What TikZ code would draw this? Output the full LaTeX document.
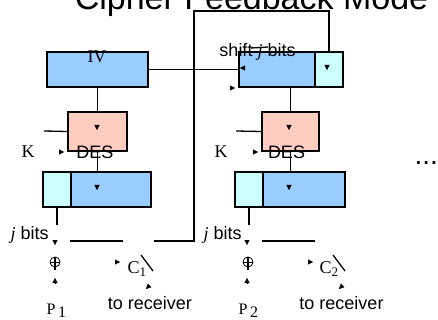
\documentclass[tikz,border=0pt]{standalone}
\usepackage{fontspec}
\setmainfont{Liberation Serif}
\setsansfont{Liberation Sans}
\usetikzlibrary{arrows.meta}
\usetikzlibrary{calc}

\definecolor{regblue}{RGB}{153,204,255}
\definecolor{regcyan}{RGB}{204,255,255}
\definecolor{despink}{RGB}{255,204,192}

\begin{document}
\begin{tikzpicture}[
  x=1pt, y=-1pt, line width=1.3pt,
  reg/.style = {draw, fill=regblue, inner sep=0pt, minimum height=35pt},
  regend/.style = {draw, fill=regcyan, inner sep=0pt, minimum height=35pt, minimum width=28pt},
  desbox/.style = {draw, fill=despink, inner sep=0pt, minimum height=39pt},
  xorsign/.style = {draw, circle, line width=0.8pt, inner sep=0pt, minimum size=10pt},
  sanstext/.style = {inner sep=0pt, anchor=base, font=\fontsize{18}{18}\selectfont\sffamily},
  seriftext/.style = {inner sep=0pt, anchor=base, font=\fontsize{18}{18}\selectfont},
  arrowtip/.style = {-{Triangle[length=5pt,width=5pt]}, line width=0.4pt}
  ]
	\useasboundingbox (0,0) rectangle (438,320);

	\node[inner sep=0pt, anchor=base, font=\fontsize{34}{34}\selectfont\sffamily] (title) at (251.5,10) {Cipher Feedback Mode};

	% registers and DES boxes
	\node[reg, minimum width=101pt] (iv) at (97.5,69.5) {};
	\node[reg, minimum width=76pt] (sr2) at (277,69.5) {};
	\node[regend] (se2) at (329,69.5) {};
	\node[desbox, minimum width=59pt] (des1) at (97.5,131.5) {};
	\node[desbox, minimum width=57pt] (des2) at (290.5,131.5) {};
	\node[regend] (oe1) at (57,189.5) {};
	\node[reg, minimum width=80pt] (ob1) at (111,189.5) {};
	\node[regend] (oe2) at (249,189.5) {};
	\node[reg, minimum width=82pt] (ob2) at (304,189.5) {};

	\coordinate (@fbtop) at (194,11);
	\coordinate (@fbbot) at (194,241);
	\coordinate (@c1r) at (154,241);
	\coordinate (@h1a) at (70,241);
	\coordinate (@h1b) at (123,241);
	\coordinate (@h2a) at (262,241);
	\coordinate (@h2b) at (315,241);
	\coordinate (@j1) at (57,225);
	\coordinate (@j2) at (249,225);
	\coordinate (@k1) at (44,131);
	\coordinate (@k2) at (236,131);

	\draw (iv.east) -- (sr2.west);
	\draw (se2.north) |- (@fbtop) -- (@fbbot) -- (@c1r);
	\draw (@h1a) -- (@h1b);
	\draw (@h2a) -- (@h2b);
	\draw (iv.south) -- (des1.north);
	\draw (des1.south) -- (des1.south |- ob1.north);
	\draw (des2.north |- sr2.south) -- (des2.north);
	\draw (des2.south) -- (des2.south |- ob2.north);
	\draw (oe1.south) -- (@j1);
	\draw (oe2.south) -- (@j2);
	\draw (@k1) -- (des1.west);
	\draw (@k2) -- (des2.west);
	\draw (251,48) -- (268,47);
	\draw (141,255) -- (153,271);
	\draw (333,255) -- (345,271);

	% xor signs
	\node[xorsign] (xor1) at (55,262) {};
	\node[xorsign] (xor2) at (248,262) {};
	\draw[line width=0.8pt] (xor1.west) -- (xor1.east);
	\draw[line width=0.8pt] (xor2.west) -- (xor2.east);
	\draw (xor1.north) -- ([yshift=-3pt]xor1.south);
	\draw (xor2.north) -- ([yshift=-3pt]xor2.south);

	% loose arrow heads
	\draw[arrowtip] (244,68) -- (240,68);
	\draw[arrowtip] (230,88) -- (235,88);
	\draw[arrowtip] (327,65) -- (327,70);
	\draw[arrowtip] (97,125) -- (97,130);
	\draw[arrowtip] (289,125) -- (289,130);
	\draw[arrowtip] (97,185) -- (97,190);
	\draw[arrowtip] (289,185) -- (289,190);
	\draw[arrowtip] (59,152) -- (64,152);
	\draw[arrowtip] (253,152) -- (258,152);
	\draw[arrowtip] (55,240) -- (55,245);
	\draw[arrowtip] (247,240) -- (247,245);
	\draw[arrowtip] (55,283) -- (55,278);
	\draw[arrowtip] (247,283) -- (247,278);
	\draw[arrowtip] (115,262) -- (120,262);
	\draw[arrowtip] (308,262) -- (313,262);
	\draw[arrowtip] (150,285) -- (146,289);
	\draw[arrowtip] (343,285) -- (339,289);

	% texts
	\node[seriftext] (ivlabel) at (97,63) {IV};
	\node[sanstext] (shift) at (257.5,57) {shift {\rmfamily\itshape j} bits};
	\node[seriftext] (k1) at (28,158) {K};
	\node[seriftext] (k2) at (221,158) {K};
	\node[sanstext] (deslabel1) at (95,159) {DES};
	\node[sanstext] (deslabel2) at (286.5,159) {DES};
	\node[sanstext, anchor=base west] (jb1) at (10,239) {{\rmfamily\itshape j} bits};
	\node[sanstext, anchor=base west] (jb2) at (203,239) {{\rmfamily\itshape j} bits};
	\node[seriftext, anchor=base west] (c1) at (127,273) {C\raisebox{-3pt}{\fontsize{13}{13}\selectfont 1}};
	\node[seriftext, anchor=base west] (c2) at (319,273) {C\raisebox{-3pt}{\fontsize{13}{13}\selectfont 2}};
	\node[sanstext] (recv1) at (150,309) {to receiver};
	\node[sanstext] (recv2) at (341.5,309) {to receiver};
	\node[inner sep=0pt, anchor=base west, font=\fontsize{16}{16}\selectfont] (p1) at (46,314) {P\,\raisebox{-3pt}{1}};
	\node[inner sep=0pt, anchor=base west, font=\fontsize{16}{16}\selectfont] (p2) at (238,314) {P\,\raisebox{-3pt}{2}};
	\node[inner sep=0pt, anchor=base west, font=\fontsize{28}{28}\selectfont\sffamily] (dots) at (414,165) {...};

\end{tikzpicture}
\end{document}
